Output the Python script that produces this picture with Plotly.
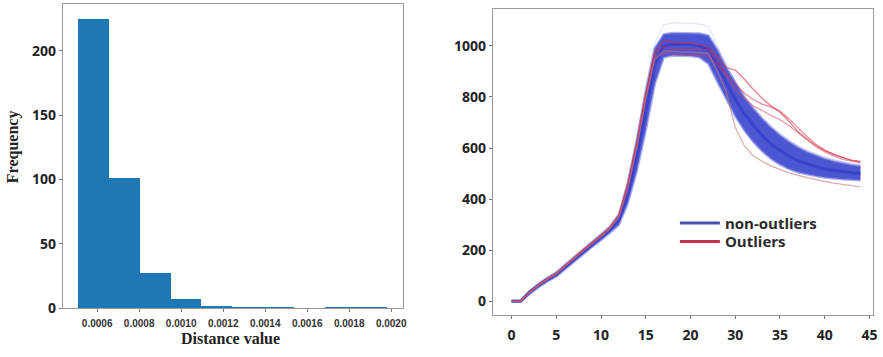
import plotly.graph_objects as go

# ---------------- Left panel: histogram of distance values ----------------
bin_edges = [0.000507, 0.000654, 0.000801, 0.000948, 0.001095, 0.001242,
             0.001389, 0.001536, 0.001683, 0.001830, 0.001977]
counts = [225, 101, 27, 7, 2, 1, 1, 0, 1, 1]
hist_ticks = [0.0006, 0.0008, 0.0010, 0.0012, 0.0014, 0.0016, 0.0018, 0.0020]
freq_ticks = [0, 50, 100, 150, 200]

# ---------------- Right panel: curves ----------------
t = list(range(40))
x_tickvals = [0, 5, 10, 15, 20, 25, 30, 35, 40]
x_ticktext = ["0", "5", "10", "15", "20", "30", "35", "40", "45"]
y_ticks = [0, 200, 400, 600, 800, 1000]

blue_hi = [2, 2, 40, 68, 92, 113, 143, 173, 203, 231, 260, 292, 340, 465, 630, 820,
           990, 1045, 1050, 1050, 1050, 1048, 1040, 985, 915, 855, 800, 755, 715, 680,
           650, 625, 603, 585, 570, 558, 548, 540, 534, 530]
blue_mid = [0, 0, 35, 62, 85, 105, 135, 165, 195, 222, 250, 280, 320, 420, 565, 745,
            925, 1000, 1005, 1005, 1005, 1000, 985, 925, 855, 790, 735, 690, 650, 615,
            590, 568, 550, 537, 527, 518, 512, 507, 503, 500]
blue_lo = [-2, -2, 28, 55, 78, 97, 126, 156, 186, 213, 240, 268, 300, 385, 510, 670,
           850, 955, 962, 962, 960, 955, 930, 860, 790, 725, 670, 625, 588, 558,
           535, 518, 505, 496, 490, 485, 481, 478, 476, 474]
blue_faint = [1, 1, 38, 66, 90, 110, 140, 170, 200, 228, 256, 288, 335, 470, 640, 840,
              1010, 1082, 1090, 1090, 1088, 1085, 1078, 1000, 925, 862, 808, 762, 722, 688,
              658, 632, 610, 592, 577, 565, 555, 547, 540, 535]

red_1 = [0, 0, 36, 64, 88, 108, 140, 172, 202, 230, 258, 290, 338, 460, 625, 815,
         975, 1020, 1015, 1010, 1010, 1005, 995, 960, 915, 905, 870, 830, 795, 765,
         740, 705, 665, 635, 610, 590, 575, 562, 553, 548]
red_2 = [0, 0, 37, 65, 89, 109, 141, 171, 201, 229, 257, 289, 336, 455, 620, 810,
         970, 995, 990, 985, 985, 985, 985, 940, 890, 850, 815, 790, 772, 760,
         745, 715, 680, 645, 615, 592, 575, 562, 552, 545]
red_3 = [0, 0, 35, 63, 87, 107, 139, 169, 199, 227, 255, 287, 334, 450, 612, 800,
         955, 970, 968, 965, 965, 962, 960, 925, 880, 830, 795, 765, 745, 728,
         710, 688, 660, 632, 605, 585, 568, 556, 548, 542]
red_4 = [0, 0, 34, 62, 86, 106, 137, 167, 197, 225, 253, 285, 330, 440, 600, 790,
         945, 980, 978, 975, 975, 972, 970, 900, 820, 680, 610, 570, 548, 530,
         515, 503, 493, 484, 476, 469, 463, 457, 452, 448]

W, H = 883, 357


def fx(px):
    return px / W


def fy(py):
    return 1 - py / H


fig = go.Figure()

# histogram bars
centers = [(bin_edges[i] + bin_edges[i + 1]) / 2 for i in range(len(counts))]
widths = [bin_edges[i + 1] - bin_edges[i] for i in range(len(counts))]
fig.add_trace(go.Bar(x=centers, y=counts, width=widths, marker=dict(color="#1f77b4", line=dict(width=0)),
                     xaxis="x", yaxis="y", showlegend=False))

# blue band
band_col = "rgba(58,68,205,0.9)"
fig.add_trace(go.Scatter(x=t, y=blue_faint, mode="lines", line=dict(color="rgba(110,120,220,0.25)", width=1),
                         xaxis="x2", yaxis="y2", showlegend=False))
fig.add_trace(go.Scatter(x=t, y=blue_lo, mode="lines", line=dict(color="rgba(100,110,220,0.55)", width=2.5),
                         xaxis="x2", yaxis="y2", showlegend=False))
fig.add_trace(go.Scatter(x=t, y=blue_hi, mode="lines", line=dict(color="rgba(100,110,220,0.55)", width=2.5),
                         fill="tonexty", fillcolor=band_col,
                         xaxis="x2", yaxis="y2", showlegend=False))
fig.add_trace(go.Scatter(x=t, y=blue_mid, mode="lines", line=dict(color="rgba(55,62,200,0.85)", width=3),
                         xaxis="x2", yaxis="y2", showlegend=False))

# red outliers
for ys, col in [(red_1, "rgba(215,45,70,0.6)"), (red_2, "rgba(215,45,70,0.55)"),
                (red_3, "rgba(205,70,90,0.5)"), (red_4, "rgba(200,120,120,0.6)")]:
    fig.add_trace(go.Scatter(x=t, y=ys, mode="lines", line=dict(color=col, width=1.3),
                             xaxis="x2", yaxis="y2", showlegend=False))

# legend entries (one legend per row for exact placement)
fig.add_trace(go.Scatter(x=[None], y=[None], mode="lines", name="non-outliers", legend="legend",
                         line=dict(color="rgb(72,82,175)", width=3), xaxis="x2", yaxis="y2"))
fig.add_trace(go.Scatter(x=[None], y=[None], mode="lines", name="Outliers", legend="legend2",
                         line=dict(color="rgb(195,50,78)", width=3), xaxis="x2", yaxis="y2"))

axis_common = dict(showline=True, mirror=True, linecolor="#9a9a9a", linewidth=1,
                   showgrid=False, zeroline=False, ticks="outside", ticklen=3,
                   tickcolor="#777", tickwidth=1)
legend_common = dict(xanchor="left", yanchor="top", bgcolor="rgba(0,0,0,0)", borderwidth=0,
                     font=dict(family="Open Sans", size=15, color="#2a2a2a", weight="bold"),
                     itemwidth=40)

fig.update_layout(
    width=W, height=H,
    margin=dict(l=0, r=0, t=0, b=0),
    paper_bgcolor="white", plot_bgcolor="white",
    bargap=0,
    xaxis=dict(domain=[fx(63), fx(405)], range=[0.000436, 0.002057],
               tickvals=hist_ticks, tickformat=".4f", ticklabelstandoff=3,
               tickfont=dict(family="Liberation Sans", size=10, color="#333", weight="bold"),
               anchor="y", **axis_common),
    yaxis=dict(domain=[fy(316), fy(4)], range=[0, 236.5], tickvals=freq_ticks,
               tickfont=dict(family="Open Sans", size=14, color="#222", weight="bold"),
               anchor="x", **axis_common),
    xaxis2=dict(domain=[fx(495), fx(877)], range=[-2.1, 40.4],
                tickvals=x_tickvals, ticktext=x_ticktext, ticklabelstandoff=4,
                tickfont=dict(family="Open Sans", size=14, color="#222", weight="bold"),
                anchor="y2", **axis_common),
    yaxis2=dict(domain=[fy(323), fy(9)], range=[-53, 1145], tickvals=y_ticks,
                tickfont=dict(family="Open Sans", size=14, color="#222", weight="bold"),
                anchor="x2", **axis_common),
    legend=dict(x=fx(678), y=fy(212), **legend_common),
    legend2=dict(x=fx(678), y=fy(231), **legend_common),
    annotations=[
        dict(text="<b>Distance value</b>", x=fx(232), y=fy(347), xref="paper", yref="paper",
             showarrow=False, font=dict(family="Liberation Serif", size=16, color="#222"),
             xanchor="center", yanchor="middle"),
        dict(text="<b>Frequency</b>", x=fx(13), y=fy(150), xref="paper", yref="paper",
             showarrow=False, textangle=-90, font=dict(family="Liberation Serif", size=16, color="#222"),
             xanchor="center", yanchor="middle"),
    ],
)

fig.write_html("out.html", post_script="document.body.style.margin='0';",
               config={"displayModeBar": False})
